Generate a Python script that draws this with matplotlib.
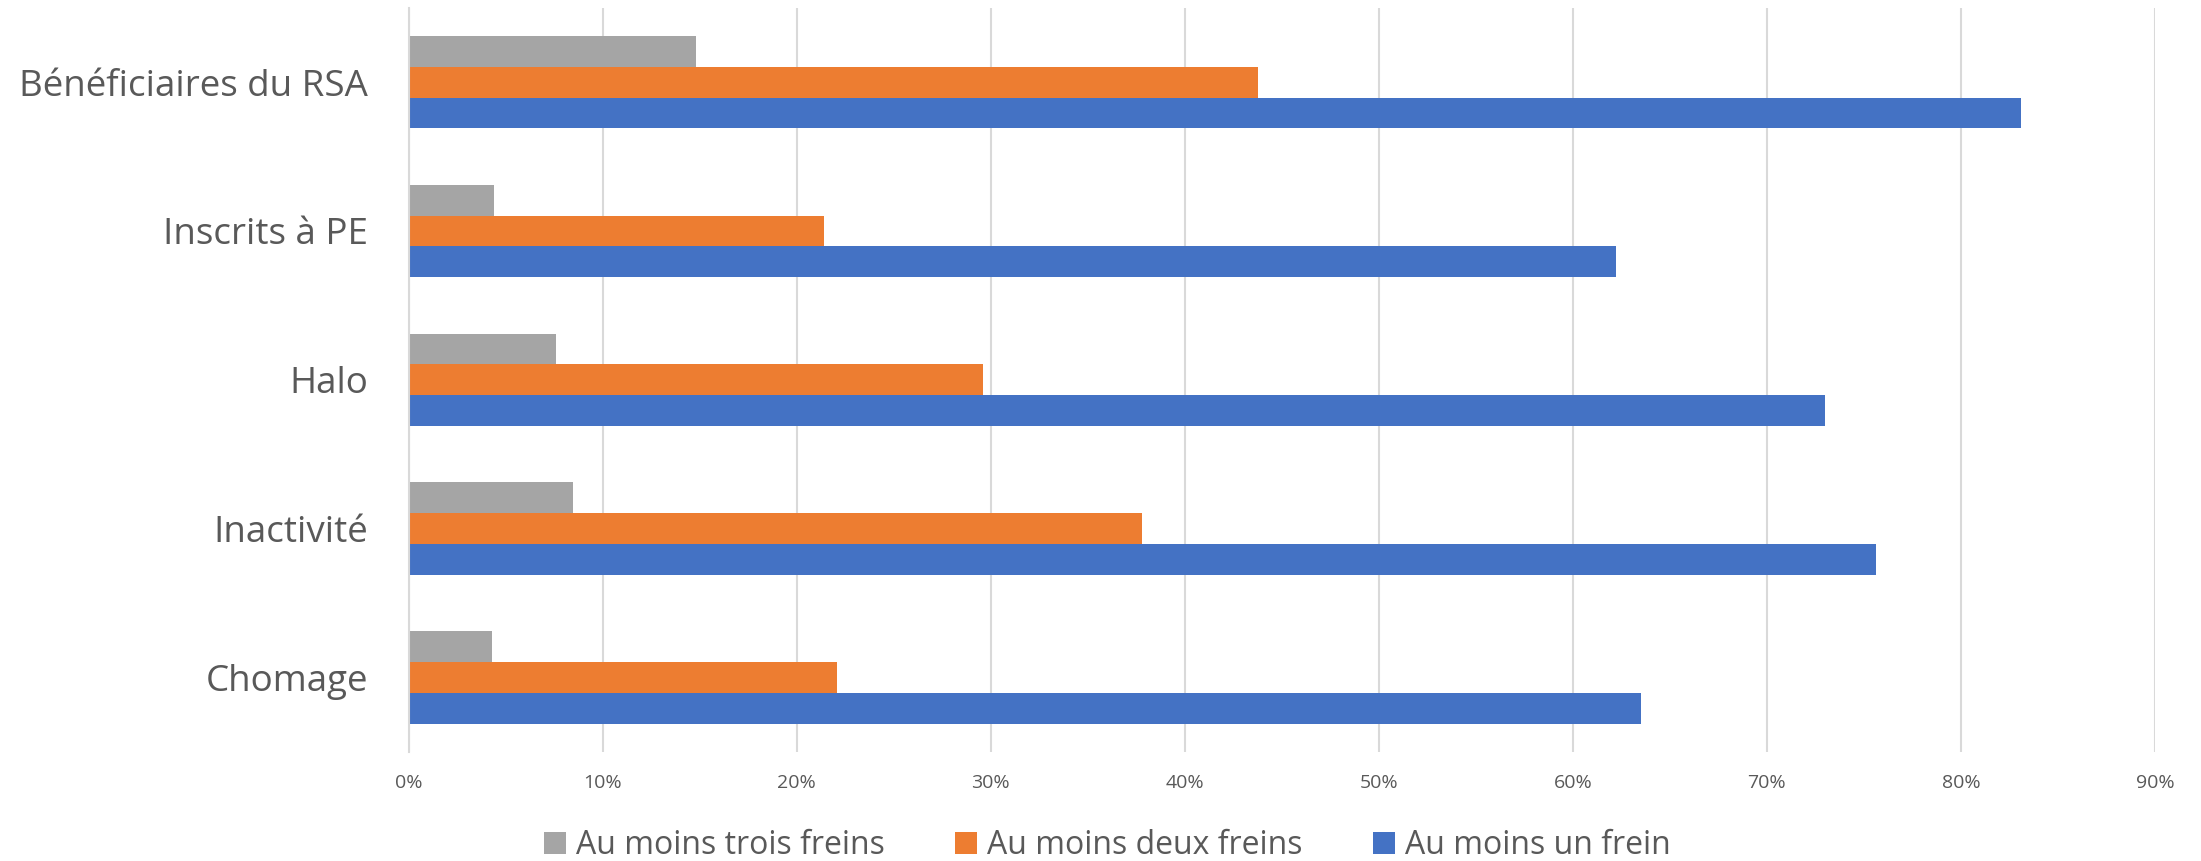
import numpy as np
import matplotlib
matplotlib.use('Agg')
import matplotlib.pyplot as plt
from matplotlib.patches import Patch
from matplotlib.ticker import PercentFormatter

plt.rcParams['font.family'] = ['Open Sans', 'DejaVu Sans']

# Categories from bottom to top
categories = ['Chomage', 'Inactivité', 'Halo', 'Inscrits à PE', 'Bénéficiaires du RSA']
un_frein = [63.5, 75.6, 73.0, 62.2, 83.1]
deux_freins = [22.1, 37.8, 29.6, 21.4, 43.8]
trois_freins = [4.3, 8.5, 7.6, 4.4, 14.8]

series_labels = ['Au moins trois freins', 'Au moins deux freins', 'Au moins un frein']
colors = ['#A5A5A5', '#ED7D31', '#4472C4']
xticks = np.arange(0, 91, 10)

fig = plt.figure(figsize=(22.01, 8.61), dpi=100)
ax = fig.add_axes([0.1856, 0.1266, 0.7935, 0.8645])

y = np.arange(len(categories))
h = 0.207
ax.barh(y + h, trois_freins, height=h, color=colors[0], zorder=3)
ax.barh(y, deux_freins, height=h, color=colors[1], zorder=3)
ax.barh(y - h, un_frein, height=h, color=colors[2], zorder=3)

ax.set_xlim(0, 90)
ax.set_ylim(-0.5, len(categories) - 0.5)
ax.set_xticks(xticks)
ax.xaxis.set_major_formatter(PercentFormatter(decimals=0))
ax.set_yticks(y)
ax.set_yticklabels(categories, fontsize=26.5, color='#595959')
ax.tick_params(axis='x', labelsize=14, colors='#595959', length=0, pad=16)
ax.tick_params(axis='y', length=0, pad=29)

ax.grid(axis='x', color='#D9D9D9', linewidth=1.5, zorder=0)
for side in ['top', 'right', 'bottom']:
    ax.spines[side].set_visible(False)
ax.spines['left'].set_color('#D9D9D9')
ax.spines['left'].set_linewidth(1.5)
ax.spines['left'].set_zorder(4)

handles = [Patch(facecolor=c, label=l) for c, l in zip(colors, series_labels)]
fig.legend(handles=handles, loc='center', bbox_to_anchor=(0.503, 0.018), ncol=3,
           frameon=False, fontsize=23, labelcolor='#595959',
           handlelength=0.7, handleheight=0.7, handletextpad=0.3, columnspacing=2.2)

fig.savefig('out.png', dpi=100)
